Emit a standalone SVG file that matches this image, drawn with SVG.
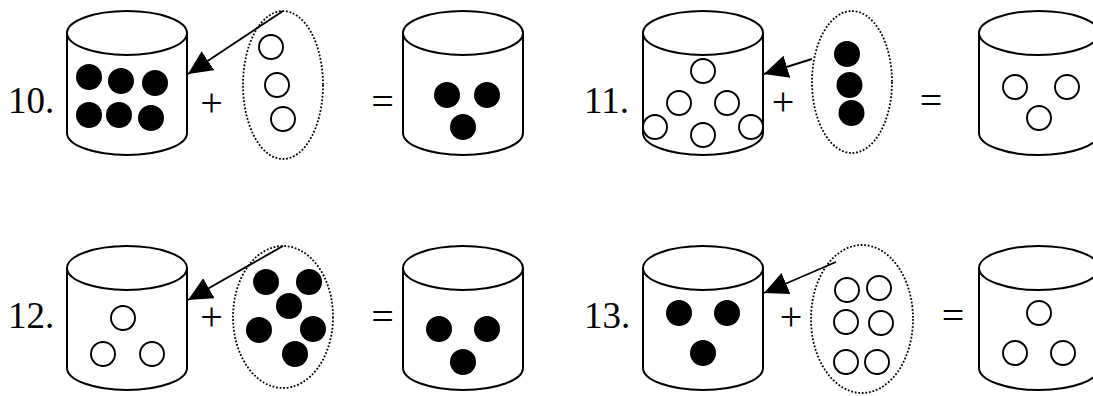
<svg xmlns="http://www.w3.org/2000/svg" width="1093" height="396" viewBox="0 0 1093 396">
<defs>
<style>
.cyl{fill:#fff;stroke:#000;stroke-width:2}
.dot{fill:#000}
.ring{fill:#fff;stroke:#000;stroke-width:1.9}
.bag{fill:none;stroke:#000;stroke-width:1.8;stroke-dasharray:1.8 1.8}
.lbl{font-family:"Liberation Serif","Times New Roman",serif;font-size:37px;fill:#000}
.op{font-family:"Liberation Serif","Times New Roman",serif;font-size:40px;fill:#000;text-anchor:middle}
.arr{fill:none;stroke:#000;stroke-width:1.9}
</style>
<marker id="ah" markerUnits="userSpaceOnUse" markerWidth="26" markerHeight="24" refX="24" refY="11.5" orient="auto">
<path d="M0,0 L24,11.5 L0,23 Z" fill="#000"/>
</marker>
<g id="cylshape">
<path class="cyl" d="M0,0 L0,100 A60,22 0 0 0 120,100 L120,0"/>
<ellipse class="cyl" cx="60" cy="0" rx="60" ry="22"/>
</g>
</defs>
<rect width="1093" height="396" fill="#fff"/>

<g id="connectors">
<line class="arr" x1="283" y1="11" x2="188" y2="74" marker-end="url(#ah)"/>
<line class="arr" x1="812" y1="59" x2="764" y2="74" marker-end="url(#ah)"/>
<line class="arr" x1="283" y1="246" x2="188" y2="300" marker-end="url(#ah)"/>
<line class="arr" x1="836" y1="262" x2="764" y2="293" marker-end="url(#ah)"/>
</g>

<!-- Problem 10 -->
<g id="p10-label"><text class="lbl" x="8" y="113">10.</text></g>
<g id="p10-cyl">
<use href="#cylshape" x="67" y="33"/>
<circle class="dot" cx="89" cy="77" r="13"/>
<circle class="dot" cx="121" cy="81" r="13"/>
<circle class="dot" cx="155" cy="83" r="13"/>
<circle class="dot" cx="89" cy="115" r="13"/>
<circle class="dot" cx="119" cy="115" r="13"/>
<circle class="dot" cx="151" cy="118" r="13"/>
</g>
<g id="p10-plus"><text class="op" x="211.5" y="115.5">+</text></g>
<g id="p10-bag">
<ellipse class="bag" cx="283" cy="85" rx="40" ry="74"/>
<circle class="ring" cx="271" cy="47" r="12"/>
<circle class="ring" cx="277" cy="85" r="12"/>
<circle class="ring" cx="283" cy="119" r="12"/>
</g>
<g id="p10-eq"><text class="op" x="382.5" y="114.5">=</text></g>
<g id="p10-result">
<use href="#cylshape" x="403" y="33"/>
<circle class="dot" cx="447" cy="95" r="13"/>
<circle class="dot" cx="487" cy="95" r="13"/>
<circle class="dot" cx="463" cy="127" r="13"/>
</g>

<!-- Problem 11 -->
<g id="p11-label"><text class="lbl" x="584" y="113">11.</text></g>
<g id="p11-cyl">
<use href="#cylshape" x="643" y="33"/>
<circle class="ring" cx="703" cy="71" r="12"/>
<circle class="ring" cx="679" cy="103" r="12"/>
<circle class="ring" cx="727" cy="103" r="12"/>
<circle class="ring" cx="655" cy="127" r="12"/>
<circle class="ring" cx="703" cy="135" r="12"/>
<circle class="ring" cx="751" cy="127" r="12"/>
</g>
<g id="p11-plus"><text class="op" x="783" y="115">+</text></g>
<g id="p11-bag">
<ellipse class="bag" cx="852" cy="82" rx="40" ry="71"/>
<circle class="dot" cx="847" cy="54" r="13"/>
<circle class="dot" cx="849.5" cy="85" r="13"/>
<circle class="dot" cx="851.5" cy="113" r="13"/>
</g>
<g id="p11-eq"><text class="op" x="931" y="114">=</text></g>
<g id="p11-result">
<use href="#cylshape" x="979" y="33"/>
<circle class="ring" cx="1015" cy="87" r="12"/>
<circle class="ring" cx="1067" cy="87" r="12"/>
<circle class="ring" cx="1039" cy="118" r="12"/>
</g>

<!-- Problem 12 -->
<g id="p12-label"><text class="lbl" x="8" y="328">12.</text></g>
<g id="p12-cyl">
<use href="#cylshape" x="67" y="268"/>
<circle class="ring" cx="123" cy="318" r="12"/>
<circle class="ring" cx="103" cy="354" r="12"/>
<circle class="ring" cx="152" cy="354" r="12"/>
</g>
<g id="p12-plus"><text class="op" x="211.5" y="330">+</text></g>
<g id="p12-bag">
<ellipse class="bag" cx="283" cy="317" rx="50" ry="71"/>
<circle class="dot" cx="266" cy="282" r="13"/>
<circle class="dot" cx="309" cy="282" r="13"/>
<circle class="dot" cx="289" cy="306" r="13"/>
<circle class="dot" cx="259" cy="330" r="13"/>
<circle class="dot" cx="313" cy="329" r="13"/>
<circle class="dot" cx="295" cy="354" r="13"/>
</g>
<g id="p12-eq"><text class="op" x="382.5" y="330">=</text></g>
<g id="p12-result">
<use href="#cylshape" x="403" y="268"/>
<circle class="dot" cx="439" cy="329" r="13"/>
<circle class="dot" cx="487" cy="329" r="13"/>
<circle class="dot" cx="463" cy="362" r="13"/>
</g>

<!-- Problem 13 -->
<g id="p13-label"><text class="lbl" x="584" y="328">13.</text></g>
<g id="p13-cyl">
<use href="#cylshape" x="643" y="268"/>
<circle class="dot" cx="679" cy="313" r="13"/>
<circle class="dot" cx="727" cy="313" r="13"/>
<circle class="dot" cx="703" cy="353" r="13"/>
</g>
<g id="p13-plus"><text class="op" x="791" y="330">+</text></g>
<g id="p13-bag">
<ellipse class="bag" cx="862" cy="319" rx="51" ry="74"/>
<circle class="ring" cx="847" cy="290" r="12"/>
<circle class="ring" cx="879" cy="288" r="12"/>
<circle class="ring" cx="846" cy="322" r="12"/>
<circle class="ring" cx="881" cy="323" r="12"/>
<circle class="ring" cx="846" cy="362" r="12"/>
<circle class="ring" cx="877" cy="362" r="12"/>
</g>
<g id="p13-eq"><text class="op" x="953" y="329">=</text></g>
<g id="p13-result">
<use href="#cylshape" x="979" y="268"/>
<circle class="ring" cx="1039" cy="313" r="12"/>
<circle class="ring" cx="1015" cy="353" r="12"/>
<circle class="ring" cx="1063" cy="353" r="12"/>
</g>
</svg>
